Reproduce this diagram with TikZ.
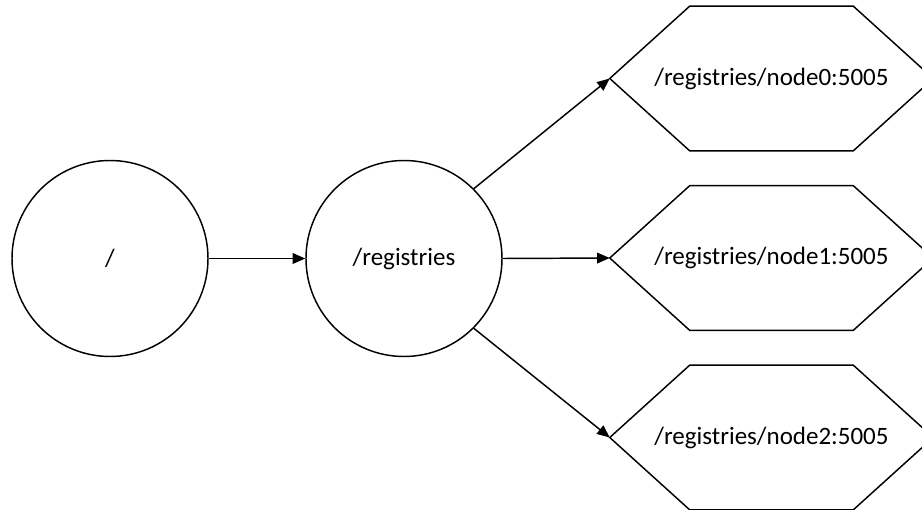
\documentclass[tikz,border=0pt]{standalone}
\usepackage{fontspec}
\setmainfont{Carlito}
\usetikzlibrary{arrows.meta,calc}
\begin{document}
\begin{tikzpicture}[x=0.75pt,y=-0.75pt,
  line width=1.1pt,
  every node/.style={font=\fontsize{18.75pt}{22pt}\selectfont},
  znode/.style={circle,draw,minimum size=147pt,inner sep=0pt},
  hexbox/.style={rectangle,draw=none,minimum width=241.5pt,minimum height=107.5pt,inner sep=0pt},
  link/.style={-{Triangle[length=9.5pt,width=8pt]}}]
\useasboundingbox (0,0) rectangle (922,510);
\begin{scope}
\clip (0,0) rectangle (922,510);
% znodes
\node[znode] (root) at (110,258.5) {/};
\node[znode] (reg) at (404,258.5) {/registries};
\node[hexbox] (n0) at (771.5,78.5) {/registries/node0:5005};
\node[hexbox] (n1) at (771.5,258) {/registries/node1:5005};
\node[hexbox] (n2) at (771.5,437.5) {/registries/node2:5005};
% hexagon outlines of the registry entries
\foreach \h in {n0,n1,n2}
  \draw (\h.west) -- ($(\h.north west)+(80,0)$) -- ($(\h.north east)+(-80,0)$)
    -- (\h.east) -- ($(\h.south east)+(-80,0)$) -- ($(\h.south west)+(80,0)$) -- cycle;
% links
\draw[link] (root.east) -- (reg.west);
\draw[link] (reg.45) -- (n0.west);
\draw[link] (reg.east) -- (n1.west);
\draw[link] (reg.-45) -- (n2.west);
\end{scope}
\end{tikzpicture}
\end{document}
